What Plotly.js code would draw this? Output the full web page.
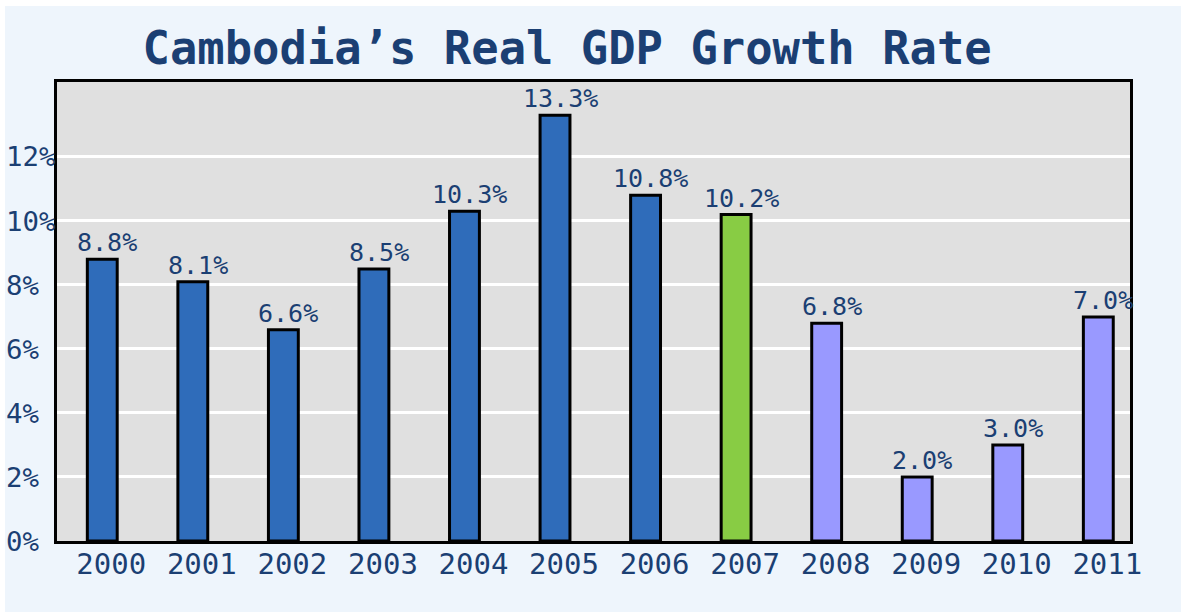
<!DOCTYPE html>
<html>
<head>
<meta charset="utf-8">
<script src="https://cdn.plot.ly/plotly-3.0.1.min.js"></script>
<style>
html,body{margin:0;padding:0;background:#ffffff;}
#chart{position:absolute;left:5px;top:6px;width:1176px;height:606px;}
</style>
</head>
<body>
<div id="chart"></div>
<script>
const years = ["2000","2001","2002","2003","2004","2005","2006","2007","2008","2009","2010","2011"];
const growth = [8.8, 8.1, 6.6, 8.5, 10.3, 13.3, 10.8, 10.2, 6.8, 2.0, 3.0, 7.0];
const labels = ["8.8%","8.1%","6.6%","8.5%","10.3%","13.3%","10.8%","10.2%","6.8%","2.0%","3.0%","7.0%"];
const barColors = ["#2f6cba","#2f6cba","#2f6cba","#2f6cba","#2f6cba","#2f6cba","#2f6cba","#88cc44","#9999ff","#9999ff","#9999ff","#9999ff"];
const yTickVals = [0,2,4,6,8,10,12];
const yTickText = ["0%","2%","4%","6%","8%","10%","12%"];

const textColor = "#1b3f73";
const mono = "DejaVu Sans Mono, Liberation Mono, monospace";

// left-align the y tick labels like the reference by padding with no-break spaces
const padLen = Math.max(...yTickText.map(s => s.length));
const yTickTextPadded = yTickText.map(s => s + "\u00a0".repeat(padLen - s.length));

// value labels above the bars (category index used as x position on the category axis)
const annotations = years.map((yr, i) => ({
  x: i, y: growth[i], xref: "x", yref: "y",
  text: labels[i], showarrow: false,
  xanchor: "center", yanchor: "bottom", xshift: 5, yshift: 0,
  font: {family: mono, size: 25, color: textColor}
}));

Plotly.newPlot("chart", [{
  type: "bar",
  x: years,
  y: growth,
  width: 0.33,
  marker: {color: barColors, line: {color: "#000000", width: 3}},
  hoverinfo: "x+y"
}], {
  width: 1176, height: 606,
  paper_bgcolor: "#eef5fc",
  plot_bgcolor: "#e0e0e0",
  margin: {l: 52, r: 51, t: 76, b: 71},
  showlegend: false,
  title: {
    text: "Cambodia’s Real GDP Growth Rate",
    font: {family: mono, size: 45.5, color: textColor, weight: "bold"},
    x: 0.478, xanchor: "center", y: 0.93, yanchor: "middle"
  },
  annotations: annotations,
  xaxis: {
    type: "category",
    range: [-0.5, 11.35],
    showgrid: false,
    showline: true, linecolor: "#000000", linewidth: 3, mirror: true,
    ticks: "", tickfont: {family: mono, size: 29, color: textColor},
    ticklabelstandoff: -5, ticklabelshift: 9
  },
  yaxis: {
    range: [0, 14.34],
    tickvals: yTickVals, ticktext: yTickTextPadded,
    showgrid: true, gridcolor: "#ffffff", gridwidth: 3,
    zeroline: false,
    showline: true, linecolor: "#000000", linewidth: 3, mirror: true,
    ticks: "", tickfont: {family: mono, size: 27.4, color: textColor},
    ticklabelstandoff: -7
  }
}, {displayModeBar: false, staticPlot: true});
</script>
</body>
</html>
